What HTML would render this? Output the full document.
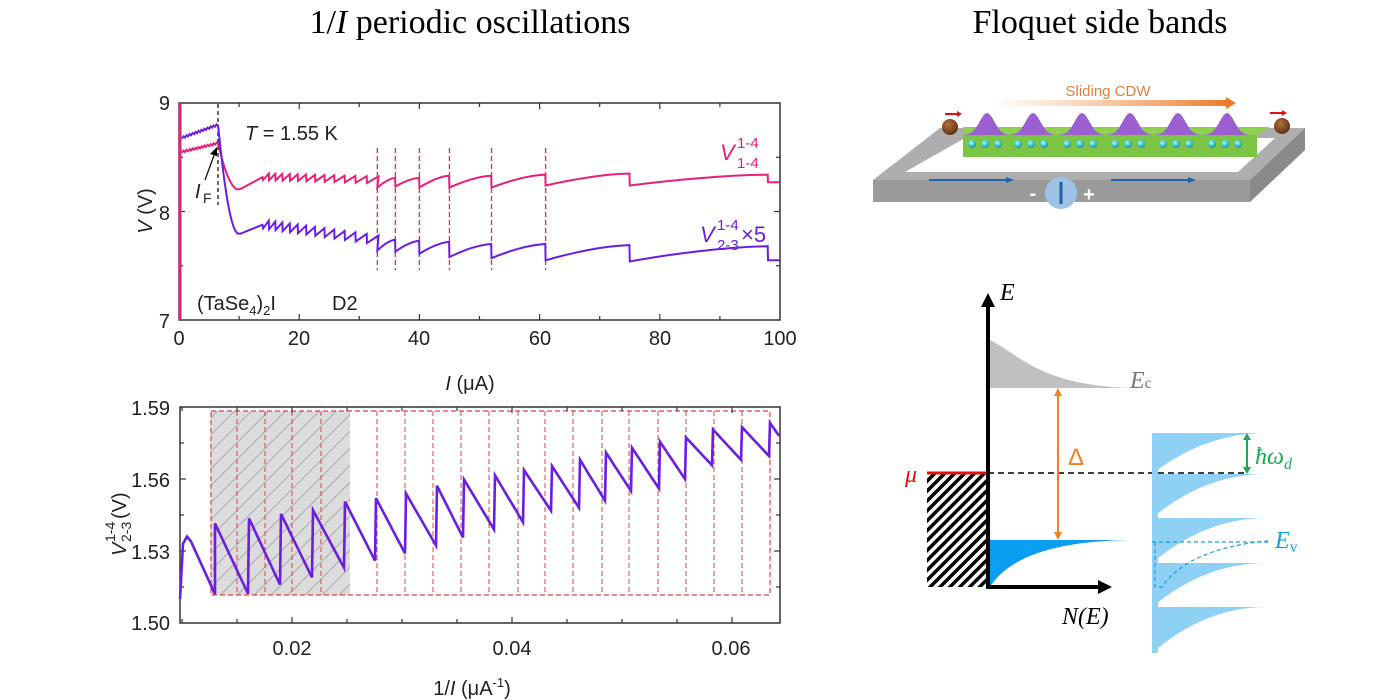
<!DOCTYPE html>
<html><head><meta charset="utf-8"><style>
html,body{margin:0;padding:0;background:#fff;}
svg{display:block}
.t{font-family:"Liberation Sans",sans-serif;}
.s{font-family:"Liberation Serif",serif;}
</style></head><body>
<svg id="sv" width="1400" height="700" viewBox="0 0 1400 700" xmlns="http://www.w3.org/2000/svg">
<defs>
<pattern id="hatch" width="7" height="7" patternUnits="userSpaceOnUse" patternTransform="rotate(45)"><rect width="7" height="7" fill="#fff"/><rect width="3.5" height="7" fill="#000"/></pattern>
<pattern id="ghatch" width="12" height="12" patternUnits="userSpaceOnUse" patternTransform="rotate(45)"><rect width="12" height="12" fill="#dcdcdc"/><rect width="1" height="12" fill="#aaa"/></pattern>
<linearGradient id="cdw" x1="0" x2="1" y1="0" y2="0"><stop offset="0" stop-color="#f3a46b" stop-opacity="0"/><stop offset="1" stop-color="#ec7a2a"/></linearGradient>
<radialGradient id="ball" cx="0.4" cy="0.35" r="0.7"><stop offset="0" stop-color="#b07040"/><stop offset="1" stop-color="#5a2e10"/></radialGradient>
<radialGradient id="dot" cx="0.4" cy="0.35" r="0.7"><stop offset="0" stop-color="#9ff"/><stop offset="1" stop-color="#0a8fa0"/></radialGradient>
</defs>
<text x="470" y="33" class="s" font-size="34" text-anchor="middle">1/<tspan font-style="italic">I</tspan> periodic oscillations</text>
<text x="1100" y="33" class="s" font-size="34" text-anchor="middle">Floquet side bands</text>

<!-- top plot -->
<g id="top">
<rect x="179" y="103" width="601" height="217" fill="none" stroke="#333" stroke-width="1.5"/>
<g id="ticks1" stroke="#333" stroke-width="1.2"></g>
<g class="t" font-size="20" fill="#222">
<text x="170" y="110" text-anchor="end">9</text>
<text x="170" y="220" text-anchor="end">8</text>
<text x="170" y="328" text-anchor="end">7</text>
<text x="179" y="345" text-anchor="middle">0</text>
<text x="299" y="345" text-anchor="middle">20</text>
<text x="419" y="345" text-anchor="middle">40</text>
<text x="540" y="345" text-anchor="middle">60</text>
<text x="660" y="345" text-anchor="middle">80</text>
<text x="780" y="345" text-anchor="middle">100</text>
<text x="470" y="390" text-anchor="middle"><tspan font-style="italic">I</tspan> (μA)</text>
<text transform="translate(152,211) rotate(-90)" text-anchor="middle"><tspan font-style="italic">V</tspan> (V)</text>
<text x="245" y="140"><tspan font-style="italic">T</tspan> = 1.55 K</text>
<text x="197" y="310">(TaSe<tspan font-size="13" dy="5">4</tspan><tspan dy="-5">)</tspan><tspan font-size="13" dy="5">2</tspan><tspan dy="-5">I</tspan></text>
<text x="332" y="310">D2</text>
<text x="195" y="198" font-style="italic">I</text><text x="203" y="203" font-size="14">F</text>
</g>
<line x1="218" y1="104" x2="218" y2="205" stroke="#000" stroke-width="1.2" stroke-dasharray="4,3"/>
<line x1="205" y1="180" x2="216" y2="150" stroke="#000" stroke-width="1.2"/>
<polygon points="217,147 210,154 217,156" fill="#000"/>
<g id="redv" stroke="#e03030" stroke-width="1.3" stroke-dasharray="5,3"></g>
<path id="pink" fill="none" stroke="#e5207a" stroke-width="2"/>
<path id="purp" fill="none" stroke="#6a1ee0" stroke-width="2"/>
<line x1="180" y1="103" x2="180" y2="320" stroke="#e5207a" stroke-width="3"/>
<g class="t" font-size="22" fill="#e5207a"><text x="720" y="160" font-style="italic">V</text><text x="737" y="148" font-size="15">1-4</text><text x="737" y="168" font-size="15">1-4</text></g>
<g class="t" font-size="22" fill="#6a1ee0"><text x="700" y="242" font-style="italic">V</text><text x="717" y="230" font-size="15">1-4</text><text x="717" y="250" font-size="15">2-3</text><text x="741" y="242">×5</text></g>
</g>

<!-- bottom plot -->
<g>
<rect x="211" y="411" width="139" height="184" fill="url(#ghatch)"/>
<rect x="211" y="411" width="559" height="184" fill="none" stroke="#e04040" stroke-width="1.2" stroke-dasharray="5,3"/>
<g id="redv2" stroke="#e04040" stroke-width="1" stroke-dasharray="5,3"></g>
<rect x="180" y="407" width="600" height="216" fill="none" stroke="#333" stroke-width="1.5"/>
<g id="ticks2" stroke="#333" stroke-width="1.2"></g>
<path id="bot" fill="none" stroke="#6a1ee0" stroke-width="2.6"/>
<g class="t" font-size="20" fill="#222">
<text x="170" y="415" text-anchor="end">1.59</text>
<text x="170" y="487" text-anchor="end">1.56</text>
<text x="170" y="559" text-anchor="end">1.53</text>
<text x="170" y="630" text-anchor="end">1.50</text>
<text x="292" y="655" text-anchor="middle">0.02</text>
<text x="512" y="655" text-anchor="middle">0.04</text>
<text x="731" y="655" text-anchor="middle">0.06</text>
<text x="472" y="695" text-anchor="middle">1/<tspan font-style="italic">I</tspan> (μA<tspan font-size="13" dy="-8">-1</tspan><tspan dy="8">)</tspan></text>
<text transform="translate(126,556) rotate(-90)" font-style="italic">V</text>
<text transform="translate(131,542) rotate(-90)" font-size="14">2-3</text>
<text transform="translate(115,542) rotate(-90)" font-size="14">1-4</text>
<text transform="translate(126,519) rotate(-90)">(V)</text>
</g>
</g>

<!-- right top diagram -->
<g>
<path d="M940,128 L1305,128 L1250,180 L873,180 Z M965,138 L1275,138 L1238,172 L905,172 Z" fill="#aeaeae" fill-rule="evenodd"/>
<rect x="873" y="180" width="377" height="22" fill="#9a9a9a"/>
<polygon points="1250,180 1305,128 1305,150 1250,202" fill="#8a8a8a"/>
<polygon points="963,127 1270,127 1257,135 963,135" fill="#8fd050"/>
<rect x="963" y="135" width="294" height="22" fill="#7cc444"/>
<g fill="#9a5fd0" id="bumps"></g>
<g id="dots"></g>
<rect x="990" y="100" width="238" height="6" fill="url(#cdw)"/>
<polygon points="1226,97 1236,103 1226,109" fill="#ec7a2a"/>
<text x="1108" y="96" class="t" font-size="15" fill="#e0803a" text-anchor="middle">Sliding CDW</text>
<circle cx="950" cy="127" r="8" fill="url(#ball)"/><circle cx="1282" cy="126" r="8" fill="url(#ball)"/>
<line x1="945" y1="114" x2="958" y2="114" stroke="#e01010" stroke-width="2"/><polygon points="957,111 962,114 957,117" fill="#e01010"/>
<line x1="1270" y1="113" x2="1283" y2="113" stroke="#e01010" stroke-width="2"/><polygon points="1282,110 1287,113 1282,116" fill="#e01010"/>
<line x1="929" y1="180" x2="1008" y2="180" stroke="#2060b0" stroke-width="2"/><polygon points="1006,177 1014,180 1006,183" fill="#2060b0"/>
<line x1="1111" y1="180" x2="1190" y2="180" stroke="#2060b0" stroke-width="2"/><polygon points="1188,177 1196,180 1188,183" fill="#2060b0"/>
<circle cx="1061" cy="193" r="16" fill="#9dc3e6"/>
<line x1="1061" y1="182" x2="1061" y2="204" stroke="#1f5fa8" stroke-width="3"/>
<text x="1033" y="200" class="t" font-size="20" font-weight="bold" fill="#fff" text-anchor="middle">-</text>
<text x="1089" y="201" class="t" font-size="20" font-weight="bold" fill="#fff" text-anchor="middle">+</text>
</g>

<!-- right bottom diagram -->
<g>
<path d="M990,340 C1020,355 1040,385 1130,388 L990,388 Z" fill="#c0c0c0"/>
<text x="1130" y="388" class="s" font-size="24" fill="#777" font-style="italic">E<tspan font-size="16" font-style="normal">c</tspan></text>
<path d="M990,540 L1130,540 C1060,541 1010,555 990,587 Z" fill="#0a9ef0"/>
<rect x="927" y="474" width="61" height="113" fill="url(#hatch)"/>
<line x1="927" y1="473" x2="988" y2="473" stroke="#e01010" stroke-width="3"/>
<text x="905" y="482" class="s" font-size="24" fill="#e01010" font-style="italic">μ</text>
<line x1="988" y1="473" x2="1247" y2="473" stroke="#000" stroke-width="1.5" stroke-dasharray="6,4"/>
<line x1="1058" y1="392" x2="1058" y2="536" stroke="#f08020" stroke-width="2"/>
<polygon points="1054,396 1058,388 1062,396" fill="#f08020"/><polygon points="1054,532 1058,540 1062,532" fill="#f08020"/>
<text x="1068" y="465" class="t" font-size="24" fill="#f08020">Δ</text>
<line x1="988" y1="588" x2="988" y2="305" stroke="#000" stroke-width="4"/>
<polygon points="981,307 988,293 995,307" fill="#000"/>
<line x1="986" y1="587" x2="1100" y2="587" stroke="#000" stroke-width="4"/>
<polygon points="1098,580 1112,587 1098,594" fill="#000"/>
<text x="1000" y="300" class="s" font-size="24" font-style="italic">E</text>
<text x="1062" y="624" class="s" font-size="24" font-style="italic">N(E)</text>
<g id="side" fill="#8fd0f5"></g>
<line x1="1152" y1="542" x2="1270" y2="542" stroke="#1a9ee0" stroke-width="1.2" stroke-dasharray="4,3"/>
<path d="M1155,542 L1155,587 L1162,587 C1180,560 1220,545 1268,541" fill="none" stroke="#1a9ee0" stroke-width="1.2" stroke-dasharray="4,3"/>
<line x1="1247" y1="437" x2="1247" y2="470" stroke="#1aaa55" stroke-width="2"/>
<polygon points="1243,440 1247,433 1251,440" fill="#1aaa55"/><polygon points="1243,467 1247,474 1251,467" fill="#1aaa55"/>
<text x="1255" y="464" class="s" font-size="24" fill="#1aaa55" font-style="italic">ħω<tspan font-size="16" dy="5">d</tspan></text>
<text x="1275" y="548" class="s" font-size="24" fill="#1aa0e0" font-style="italic">E<tspan font-size="16" font-style="normal" dy="4">v</tspan></text>
</g>
</svg>
<script>
var NS="http://www.w3.org/2000/svg";
function el(p,t,a){var e=document.createElementNS(NS,t);for(var k in a)e.setAttribute(k,a[k]);p.appendChild(e);return e;}
var X=function(I){return 179+I*6.01}, Y=function(V){return 320-(V-7)*108.5};
// ticks
var t1=document.getElementById("ticks1");
for(var I=10;I<100;I+=10){var L=(I%20==0)?6:4;el(t1,"line",{x1:X(I),x2:X(I),y1:320,y2:320-L});el(t1,"line",{x1:X(I),x2:X(I),y1:103,y2:103+L});}
[7.5,8,8.5].forEach(function(v){var L=(v==8)?6:4;el(t1,"line",{x1:179,x2:179+L,y1:Y(v),y2:Y(v)});el(t1,"line",{x1:780,x2:780-L,y1:Y(v),y2:Y(v)});});
var t2=document.getElementById("ticks2");
for(var k=0;k<12;k++){var v=0.01+k*0.005;var x=182+(v-0.01)*11000;if(x<=181||x>=779)continue;var L=(Math.round(v*1000)%20==0)?6:4;el(t2,"line",{x1:x,x2:x,y1:623,y2:623-L});el(t2,"line",{x1:x,x2:x,y1:407,y2:407+L});}
for(var k=1;k<6;k++){var y=407+k*36;var L=(k%2==0)?6:4;el(t2,"line",{x1:180,x2:180+L,y1:y,y2:y});el(t2,"line",{x1:780,x2:780-L,y1:y,y2:y});}
// top plot
function build(seg){var d="";seg.forEach(function(p,i){d+=(i?"L":"M")+X(p[0]).toFixed(1)+","+Y(p[1]).toFixed(1)});return d;}
function series(a0,a1,drop,base0,base1,osc,mins,peaks){
 var p=[];
 for(var I=0.5;I<=6.5;I+=0.25){p.push([I,a0+(a1-a0)*(I-0.5)/6+((Math.round(I*4))%2?0.008:-0.008)]);}
 for(var I=6.7;I<=10;I+=0.3){var t=(I-6.5)/3.5;p.push([I,a1+(drop-a1)*(1-Math.pow(1-t,2))]);}
 for(var I=10.3;I<=14;I+=0.4){var t=(I-10)/4;p.push([I,drop+(base0-drop)*t]);}
 var I=14;var per=1.0;
 while(I<32.5){var b=base0+(base1-base0)*(I-14)/19;p.push([I,b-osc]);I+=per;p.push([I-0.05,b+osc]);per+=0.08;}
 var J=[33,36,40,45,52,61,75,98,100];
 for(var k=0;k<J.length-1;k++){var a=J[k],c=J[k+1];p.push([a,mins[k]]);for(var s=1;s<=8;s++){var t=s/8;p.push([a+(c-a)*t-(s==8?0.05:0),mins[k]+(peaks[k]-mins[k])*(1-Math.pow(1-t,1.6))]);}}
 return p;}
document.getElementById("pink").setAttribute("d",build(series(8.55,8.63,8.2,8.32,8.29,0.03,[8.22,8.23,8.22,8.22,8.22,8.24,8.24,8.27],[8.31,8.31,8.33,8.33,8.34,8.35,8.34,8.27])));
document.getElementById("purp").setAttribute("d",build(series(8.68,8.8,7.79,7.88,7.73,0.035,[7.64,7.63,7.61,7.58,7.57,7.55,7.54,7.55],[7.74,7.73,7.72,7.70,7.70,7.69,7.68,7.55])));
var rv=document.getElementById("redv");[33,36,40,45,52,61].forEach(function(I){el(rv,"line",{x1:X(I),x2:X(I),y1:148,y2:270});});
// bottom
var YB=function(V){return 407+(1.59-V)*2400};
var J=[215,249,281,313,345,376,406,437,464,495,524,552,580,606,632,660,686,713,742,770];
var mn=[1.5122,1.516,1.519,1.523,1.526,1.529,1.5323,1.5356,1.539,1.542,1.5468,1.548,1.551,1.555,1.556,1.56,1.5657,1.568,1.5696];
var pk=[1.5415,1.5436,1.5454,1.547,1.5506,1.552,1.554,1.5572,1.5598,1.5615,1.5637,1.5654,1.568,1.571,1.573,1.5755,1.5773,1.5806,1.5816,1.5834];
var d="M180,"+YB(1.51)+"L183,"+YB(1.533)+"L187,"+YB(1.536)+"L191,"+YB(1.534)+"L215,"+YB(1.512);
for(var k=0;k<J.length;k++){var a=J[k],c=(k<J.length-1)?J[k+1]:780;var v1=(k<mn.length)?mn[k]:1.578;d+="L"+a+","+YB(pk[k]).toFixed(1);
 for(var s=1;s<=6;s++){var t=s/6;d+="L"+(a+(c-a-1)*t).toFixed(1)+","+YB(pk[k]+(v1-pk[k])*t).toFixed(1);}}
document.getElementById("bot").setAttribute("d",d);
var rv2=document.getElementById("redv2");[237,265,292,321,377,405,433,461,489,518,545,573,602,629,658,686,714,742].forEach(function(x){el(rv2,"line",{x1:x,x2:x,y1:411,y2:595});});
// bumps & dots
var bg=document.getElementById("bumps"),dg=document.getElementById("dots");
[987,1033,1082,1130,1178,1227].forEach(function(c){var p="M"+(c-24)+",135";for(var i=-24;i<=24;i+=2){p+="L"+(c+i)+","+(135-22*Math.exp(-i*i/110)).toFixed(1);}p+="Z";el(bg,"path",{d:p});
[-13,0,13].forEach(function(o){el(dg,"circle",{cx:c+o-2,cy:144,r:4,fill:"url(#dot)"});});});
// side bands
var sg=document.getElementById("side");
var tops=[433,474,518,563,607];var nxt=[474,518,563,607,653];
for(var i=0;i<tops.length;i++){var y0=tops[i],y1=nxt[i];
 var p="M1152,"+y0+"L1270,"+y0+"L1270,"+(y0+1);
 for(var x=1270;x>=1152;x-=4){var t=(x-1152)/118;p+="L"+x+","+(y0+(y1-y0)*Math.pow(1-t,2.2)).toFixed(1);}
 p+="Z";el(sg,"path",{d:p});}
el(sg,"rect",{x:1152,y:433,width:6,height:220});
</script>
</body></html>
